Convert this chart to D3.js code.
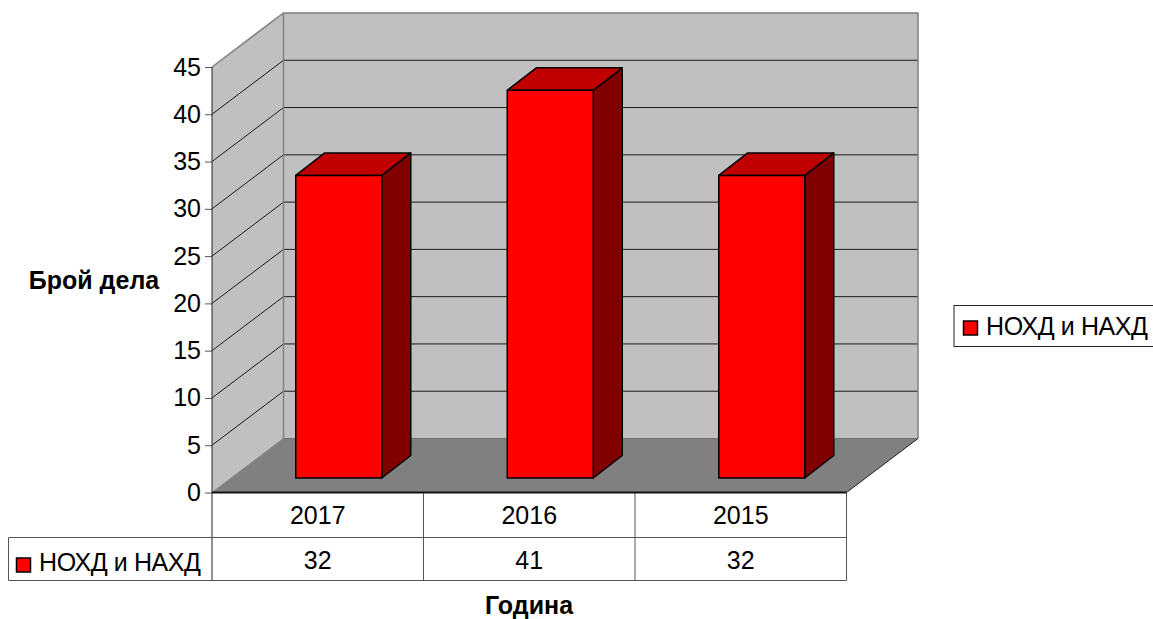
<!DOCTYPE html>
<html>
<head>
<meta charset="utf-8">
<script src="https://cdn.jsdelivr.net/npm/d3@7"></script>
<style>
html, body { margin: 0; padding: 0; background: #fff; overflow: hidden; }
svg { display: block; }
text { font-family: "Liberation Sans", Arial, sans-serif; fill: #000; }
.domain { display: none; }
</style>
</head>
<body>
<svg id="chart" width="1153" height="619"></svg>
<script>
const categories = ["2017", "2016", "2015"];
const values = [32, 41, 32];
const seriesName = "НОХД и НАХД";
const yTicks = [0, 5, 10, 15, 20, 25, 30, 35, 40, 45];
const yTitle = "Брой дела";
const xTitle = "Година";

const svg = d3.select("#chart");

const plotLeft = 212, plotRight = 846.5, plotBottom = 492.5, plotTop = 67;
const depthX = 71.5, depthY = 54;
const barShiftX = 21, barShiftY = 14.5, barDepthX = 29, barDepthY = 22.5;
const tableRow1 = 537.5, tableRow2 = 580.5, tableLeft = 8.5;
const labelSize = "25px";

const x = d3.scaleBand().domain(categories).range([plotLeft, plotRight]);
const y = d3.scaleLinear().domain([0, 45]).range([plotBottom, plotTop]);
const barWidth = 86;

const poly = pts => pts.map(p => p.join(",")).join(" ");

// back wall, side wall, floor
svg.append("polygon")
    .attr("points", poly([[plotLeft + depthX, y(0) - depthY], [plotLeft + depthX, y(45) - depthY], [plotRight + depthX, y(45) - depthY], [plotRight + depthX, y(0) - depthY]]))
    .attr("fill", "#c0c0c0");
svg.append("polygon")
    .attr("points", poly([[plotLeft, y(0)], [plotLeft, y(45)], [plotLeft + depthX, y(45) - depthY], [plotLeft + depthX, y(0) - depthY]]))
    .attr("fill", "#c0c0c0");
svg.append("polygon")
    .attr("points", poly([[plotLeft, y(0)], [plotLeft + depthX, y(0) - depthY], [plotRight + depthX, y(0) - depthY], [plotRight, y(0)]]))
    .attr("fill", "#808080");

// gridlines
const grid = svg.append("g");
yTicks.slice(1, -1).forEach(t => {
    grid.append("polyline")
        .attr("points", poly([[plotLeft, y(t)], [plotLeft + depthX, y(t) - depthY], [plotRight + depthX, y(t) - depthY]]))
        .attr("fill", "none")
        .attr("stroke", "#1a1a1a")
        .attr("stroke-width", 1);
});

// wall outlines
svg.append("polyline")
    .attr("points", poly([[plotLeft, y(45)], [plotLeft + depthX, y(45) - depthY], [plotRight + depthX, y(45) - depthY], [plotRight + depthX, y(0) - depthY]]))
    .attr("fill", "none").attr("stroke", "#808080").attr("stroke-width", 1.5);
svg.append("line")
    .attr("x1", plotLeft + depthX).attr("x2", plotLeft + depthX)
    .attr("y1", y(45) - depthY).attr("y2", y(0) - depthY)
    .attr("stroke", "#808080").attr("stroke-width", 1.5);
svg.append("line")
    .attr("x1", plotLeft).attr("x2", plotLeft + depthX)
    .attr("y1", y(0)).attr("y2", y(0) - depthY)
    .attr("stroke", "#808080").attr("stroke-width", 1);
svg.append("line")
    .attr("x1", plotLeft + depthX).attr("x2", plotRight + depthX)
    .attr("y1", y(0) - depthY).attr("y2", y(0) - depthY)
    .attr("stroke", "#707070").attr("stroke-width", 1);
svg.append("line")
    .attr("x1", plotRight).attr("x2", plotRight + depthX)
    .attr("y1", y(0)).attr("y2", y(0) - depthY)
    .attr("stroke", "#222").attr("stroke-width", 1);

// bars
const bars = svg.append("g").selectAll("g")
    .data(categories.map((c, i) => ({ c, v: values[i] })))
    .enter().append("g")
    .attr("stroke", "#000")
    .attr("stroke-width", 1.5)
    .attr("stroke-linejoin", "round");

const bx0 = d => x(d.c) + x.bandwidth() / 2 - barWidth / 2 + barShiftX;
const bx1 = d => bx0(d) + barWidth;
const by0 = () => y(0) - barShiftY;
const by1 = d => y(d.v) - barShiftY;

bars.append("polygon")
    .attr("fill", "#800000")
    .attr("points", d => poly([[bx1(d), by1(d)], [bx1(d) + barDepthX, by1(d) - barDepthY], [bx1(d) + barDepthX, by0() - barDepthY], [bx1(d), by0()]]));
bars.append("polygon")
    .attr("fill", "#c00000")
    .attr("points", d => poly([[bx0(d), by1(d)], [bx0(d) + barDepthX, by1(d) - barDepthY], [bx1(d) + barDepthX, by1(d) - barDepthY], [bx1(d), by1(d)]]));
bars.append("rect")
    .attr("fill", "#ff0000")
    .attr("x", bx0)
    .attr("y", by1)
    .attr("width", barWidth)
    .attr("height", d => by0() - by1(d));

// y axis
const axis = svg.append("g")
    .attr("transform", `translate(${plotLeft},0)`)
    .call(d3.axisLeft(y).tickValues(yTicks).tickSize(7).tickPadding(4));
axis.selectAll("text").style("font-size", labelSize).style("font-family", '"Liberation Sans", Arial, sans-serif').attr("fill", "#000");
axis.selectAll("line").attr("stroke", "#555");
svg.append("line")
    .attr("x1", plotLeft).attr("x2", plotLeft).attr("y1", y(45)).attr("y2", tableRow2)
    .attr("stroke", "#222").attr("stroke-width", 1);

// data table
const tableLines = svg.append("g").attr("stroke", "#555").attr("stroke-width", 1).attr("fill", "none");
categories.map(c => x(c) + x.bandwidth()).forEach(xv => {
    tableLines.append("line").attr("x1", xv).attr("x2", xv).attr("y1", plotBottom).attr("y2", tableRow2);
});
tableLines.append("line").attr("x1", tableLeft).attr("x2", plotRight).attr("y1", tableRow1).attr("y2", tableRow1);
tableLines.append("line").attr("x1", tableLeft).attr("x2", plotRight).attr("y1", tableRow2).attr("y2", tableRow2);
tableLines.append("line").attr("x1", tableLeft).attr("x2", tableLeft).attr("y1", tableRow1).attr("y2", tableRow2);
svg.append("line")
    .attr("x1", plotLeft).attr("x2", plotRight).attr("y1", plotBottom).attr("y2", plotBottom)
    .attr("stroke", "#111").attr("stroke-width", 2);

svg.selectAll(".cat").data(categories).enter().append("text")
    .attr("class", "cat")
    .attr("x", d => x(d) + x.bandwidth() / 2)
    .attr("y", 523.5)
    .attr("text-anchor", "middle")
    .style("font-size", labelSize)
    .text(d => d);
svg.selectAll(".val").data(values).enter().append("text")
    .attr("class", "val")
    .attr("x", (d, i) => x(categories[i]) + x.bandwidth() / 2)
    .attr("y", 569)
    .attr("text-anchor", "middle")
    .style("font-size", labelSize)
    .text(d => d);

function legendEntry(g, sx, sy, tx, ty) {
    g.append("rect")
        .attr("x", sx).attr("y", sy).attr("width", 14).attr("height", 14)
        .attr("fill", "#ff0000").attr("stroke", "#000").attr("stroke-width", 1.5);
    g.append("text")
        .attr("x", tx).attr("y", ty)
        .attr("textLength", 162)
        .attr("lengthAdjust", "spacing")
        .style("font-size", labelSize)
        .text(seriesName);
}
legendEntry(svg.append("g"), 16.5, 558, 39, 571);

// legend box
svg.append("rect")
    .attr("x", 954).attr("y", 305.5).attr("width", 210).attr("height", 41)
    .attr("fill", "#fff").attr("stroke", "#222").attr("stroke-width", 1);
legendEntry(svg.append("g"), 963.5, 321, 986, 335);

// titles
svg.append("text")
    .attr("x", 94).attr("y", 289)
    .attr("text-anchor", "middle")
    .style("font-size", "25px").style("font-weight", "bold")
    .text(yTitle);
svg.append("text")
    .attr("x", 529).attr("y", 613.5)
    .attr("text-anchor", "middle")
    .style("font-size", "25px").style("font-weight", "bold")
    .text(xTitle);
</script>
</body>
</html>
